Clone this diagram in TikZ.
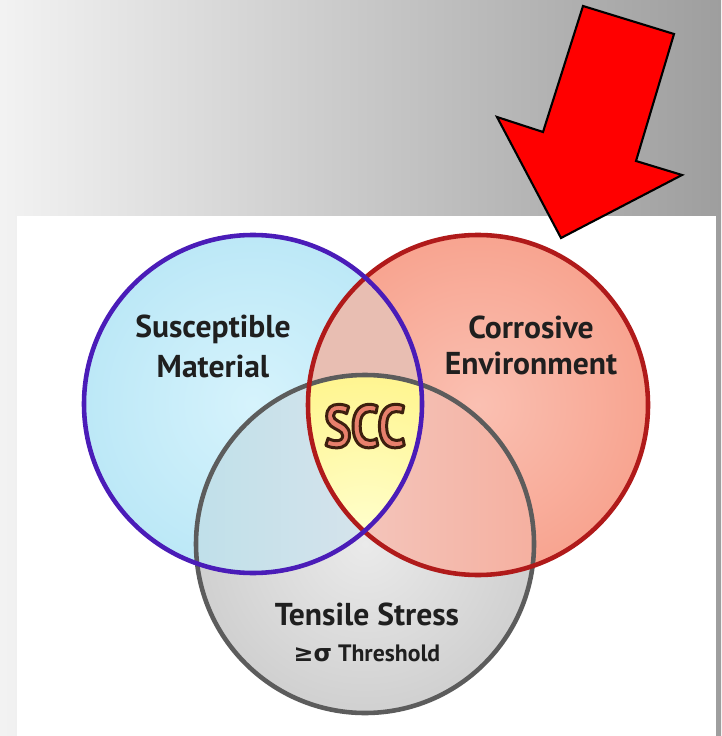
\documentclass[tikz,border=0pt]{standalone}
\usepackage{fontspec}
\setmainfont{PT Sans}
\newfontfamily\glyphfont{DejaVu Sans}
\newfontfamily\sccfont[FakeStretch=0.84]{PT Sans}
\usetikzlibrary{positioning}

\definecolor{matedge}{HTML}{4A1CB8}
\definecolor{envedge}{HTML}{B01A1A}
\definecolor{stredge}{HTML}{5C5C5C}
\definecolor{sccfill}{HTML}{E8806C}

% filled letters with a dark stroked rim
\newcommand\rimtext[1]{\special{pdf:literal direct 2 Tr 1.7 w 1 j 0.24 0.12 0.06 RG}#1\special{pdf:literal direct 0 Tr}}

\begin{document}
\begin{tikzpicture}[x=0.02cm,y=-0.02cm,
  label/.style={text=black!88,inner sep=0pt,font=\fontsize{18}{22}\selectfont\bfseries},
  small/.style={text=black!88,inner sep=0pt,font=\fontsize{13.5}{16}\selectfont\bfseries},
  scc/.style={inner sep=0pt,anchor=base,font=\sccfont\fontsize{34}{36}\selectfont\bfseries},
  ring/.style={line width=2.6pt}]
\useasboundingbox (0,0) rectangle (721,736);
\shade[left color=black!5,right color=black!38] (0,0) rectangle (721,736);
\fill[white] (17,216) rectangle (716,736);

\coordinate (mat) at (253,404);
\coordinate (env) at (478,405);
\coordinate (str) at (365,544);

% plain circles
\shade[inner color={rgb,255:red,214;green,243;blue,252},outer color={rgb,255:red,188;green,232;blue,247}] (mat) circle (169);
\shade[inner color={rgb,255:red,250;green,192;blue,178},outer color={rgb,255:red,248;green,164;blue,144}] (env) circle (170);
\shade[inner color={rgb,255:red,234;green,234;blue,234},outer color={rgb,255:red,208;green,208;blue,208}] (str) circle (169);

% overlaps
\begin{scope}
\clip (mat) circle (169);
\fill[fill={rgb,255:red,232;green,190;blue,178}] (env) circle (170);
\shade[left color={rgb,255:red,192;green,224;blue,234},right color={rgb,255:red,234;green,230;blue,236}] (str) circle (169);
\end{scope}
\begin{scope}
\clip (env) circle (170);
\shade[left color={rgb,255:red,242;green,216;blue,212},right color={rgb,255:red,245;green,176;blue,160}] (str) circle (169);
\clip (mat) circle (169);
\shade[inner color={rgb,255:red,255;green,255;blue,208},outer color={rgb,255:red,255;green,245;blue,144}] (str) circle (169);
\end{scope}

% rims
\draw[ring,stredge] (str) circle (169);
\draw[ring,envedge] (env) circle (170);
\draw[ring,matedge] (mat) circle (169);

% labels
\node[label,anchor=base] (sus) at (213,337) {Susceptible};
\node[label,below=23pt of sus.base,anchor=base] (matl) {Material};
\node[label,anchor=base] (cor) at (531,338) {Corrosive};
\node[label,below=21pt of cor.base,anchor=base] (envl) {Environment};
\node[label,anchor=base] (ten) at (367,625) {Tensile Stress};
\node[small,below=21pt of ten.base,anchor=base] (thr) {{\glyphfont ≥σ} Threshold};
\node[scc,text=sccfill] (scc) at (365,447) {\rimtext{SCC}};

% red arrow
\draw[line width=1.2pt,fill=red,line join=miter]
  (583,6) -- (674,34) -- (636,161) -- (682,175) -- (561,238) -- (497,117) -- (543,132) -- cycle;
\end{tikzpicture}
\end{document}
